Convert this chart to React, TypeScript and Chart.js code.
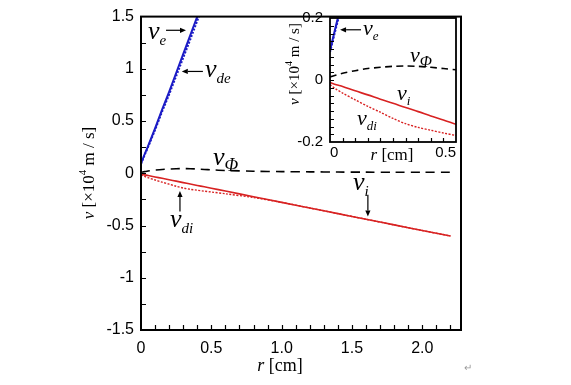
import React, { useEffect, useRef } from "react";
import { Chart, registerables } from "chart.js";
Chart.register(...registerables);

// ---------------- data ----------------
const rValues = [0, 0.025, 0.05, 0.1, 0.15, 0.2, 0.25, 0.3, 0.35, 0.4, 0.45, 0.5, 0.6, 0.8, 1.0, 1.2, 1.4, 1.6, 1.8, 2.0, 2.2];
const vE = [0.095, 0.18, 0.26, 0.43, 0.61, 0.78, 0.96, 1.14, 1.32, 1.5, 1.68, null, null, null, null, null, null, null, null, null, null];
const vDe = [0.09, 0.172, 0.25, 0.415, 0.59, 0.755, 0.93, 1.105, 1.28, 1.46, 1.635, null, null, null, null, null, null, null, null, null, null];
const vPhi = [0.01, 0.016, 0.022, 0.03, 0.037, 0.041, 0.044, 0.045, 0.044, 0.041, 0.037, 0.033, 0.027, 0.02, 0.016, 0.014, 0.012, 0.011, 0.01, 0.01, 0.01];
const vI = [-0.008, -0.015, -0.021, -0.035, -0.048, -0.062, -0.075, -0.089, -0.102, -0.116, -0.129, -0.143, -0.17, -0.224, -0.278, -0.332, -0.386, -0.44, -0.494, -0.548, -0.6];
const vDi = [-0.015, -0.03, -0.042, -0.064, -0.085, -0.104, -0.124, -0.141, -0.153, -0.162, -0.171, -0.179, -0.196, -0.232, -0.278, -0.332, -0.386, -0.44, -0.494, -0.548, -0.6];

// main axes
const mainXTicks = [0, 0.5, 1.0, 1.5, 2.0];
const mainXTickLabels = ["0", "0.5", "1.0", "1.5", "2.0"];
const mainXMinor = [0.1, 0.2, 0.3, 0.4, 0.5, 0.6, 0.7, 0.8, 0.9, 1.0, 1.1, 1.2, 1.3, 1.4, 1.5, 1.6, 1.7, 1.8, 1.9, 2.0, 2.1, 2.2];
const mainYTicks = [-1.5, -1, -0.5, 0, 0.5, 1, 1.5];
const mainYTickLabels = ["-1.5", "-1", "-0.5", "0", "0.5", "1", "1.5"];
const mainYMinor = [-1.25, -1, -0.75, -0.5, -0.25, 0, 0.25, 0.5, 0.75, 1, 1.25];

// inset axes
const insetXTicks = [0, 0.5];
const insetXTickLabels = ["0", "0.5"];
const insetXMinor = [0.05, 0.1, 0.15, 0.2, 0.25, 0.3, 0.35, 0.4, 0.45];
const insetYTicks = [-0.2, 0, 0.2];
const insetYTickLabels = ["-0.2", "0", "0.2"];
const insetYMinor = [-0.175, -0.15, -0.125, -0.1, -0.075, -0.05, -0.025, 0, 0.025, 0.05, 0.075, 0.1, 0.125, 0.15, 0.175];

// ---------------- styling ----------------
const SANS = "'Liberation Sans', Arial, sans-serif";
const SERIF = "'Liberation Serif', 'Times New Roman', serif";
const BLUE = "#1c1cc6";
const RED = "#d82222";

type Seg = { t: string; font: string; dy?: number };

function drawRich(ctx: CanvasRenderingContext2D, segs: Seg[], x: number, y: number) {
  let cx = x;
  for (const s of segs) {
    ctx.font = s.font;
    ctx.fillText(s.t, cx, y + (s.dy || 0));
    cx += ctx.measureText(s.t).width;
  }
}
function richWidth(ctx: CanvasRenderingContext2D, segs: Seg[]) {
  let w = 0;
  for (const s of segs) {
    ctx.font = s.font;
    w += ctx.measureText(s.t).width;
  }
  return w;
}
function arrow(ctx: CanvasRenderingContext2D, x1: number, y1: number, x2: number, y2: number) {
  const ang = Math.atan2(y2 - y1, x2 - x1);
  const hl = 6, hw = 2.6;
  ctx.beginPath();
  ctx.moveTo(x1, y1);
  ctx.lineTo(x2 - hl * Math.cos(ang), y2 - hl * Math.sin(ang));
  ctx.stroke();
  ctx.beginPath();
  ctx.moveTo(x2, y2);
  ctx.lineTo(x2 - hl * Math.cos(ang) + hw * Math.sin(ang), y2 - hl * Math.sin(ang) - hw * Math.cos(ang));
  ctx.lineTo(x2 - hl * Math.cos(ang) - hw * Math.sin(ang), y2 - hl * Math.sin(ang) + hw * Math.cos(ang));
  ctx.closePath();
  ctx.fill();
}

type Label = { sub: string; x: number; y: number; big?: boolean };
type Arrow = { x1: number; y1: number; x2: number; y2: number };

interface OverlayCfg {
  id: string;
  frameWidth: number;
  tickLen: number;
  xMinor: number[];
  yMinor: number[];
  labels: Label[];
  arrows: Arrow[];
  vSize: number;
  subSize: number;
  subDy: number;
  yTitle: { x: number; y: number; size: number; supSize: number };
  xTitle: { x: number; y: number; size: number };
  extra?: (ctx: CanvasRenderingContext2D) => void;
}

function makeOverlay(cfg: OverlayCfg) {
  return {
    id: cfg.id,
    afterDraw(chart: any) {
      const { ctx, chartArea: a, scales } = chart;
      const xs = scales.x, ys = scales.y;
      ctx.save();
      ctx.strokeStyle = "#000";
      ctx.fillStyle = "#000";
      ctx.lineWidth = cfg.frameWidth;
      ctx.strokeRect(a.left, a.top, a.right - a.left, a.bottom - a.top);
      ctx.lineWidth = 1.2;
      ctx.beginPath();
      for (const v of cfg.xMinor) {
        const px = Math.round(xs.getPixelForValue(v)) + 0.5;
        ctx.moveTo(px, a.bottom);
        ctx.lineTo(px, a.bottom - cfg.tickLen);
      }
      for (const v of cfg.yMinor) {
        const py = Math.round(ys.getPixelForValue(v)) + 0.5;
        ctx.moveTo(a.left, py);
        ctx.lineTo(a.left + cfg.tickLen, py);
      }
      ctx.stroke();

      // annotations
      ctx.textAlign = "left";
      ctx.textBaseline = "alphabetic";
      for (const l of cfg.labels) {
        const px = xs.getPixelForValue(l.x);
        const py = ys.getPixelForValue(l.y);
        const ss = l.big ? cfg.subSize + 3 : cfg.subSize;
        drawRich(ctx, [
          { t: "v", font: `italic ${cfg.vSize}px ${SERIF}` },
          { t: l.sub, font: `italic ${ss}px ${SERIF}`, dy: cfg.subDy },
        ], px, py);
      }
      ctx.lineWidth = 1.2;
      for (const ar of cfg.arrows) {
        arrow(ctx, xs.getPixelForValue(ar.x1), ys.getPixelForValue(ar.y1), xs.getPixelForValue(ar.x2), ys.getPixelForValue(ar.y2));
      }

      // y title
      const yt = cfg.yTitle;
      const ySegs: Seg[] = [
        { t: "v", font: `italic ${yt.size}px ${SERIF}` },
        { t: " [\u00d710", font: `${yt.size}px ${SERIF}` },
        { t: "4", font: `${yt.supSize}px ${SERIF}`, dy: -yt.size * 0.38 },
        { t: " m / s]", font: `${yt.size}px ${SERIF}` },
      ];
      ctx.save();
      ctx.translate(yt.x, yt.y);
      ctx.rotate(-Math.PI / 2);
      ctx.textBaseline = "middle";
      drawRich(ctx, ySegs, -richWidth(ctx, ySegs) / 2, 0);
      ctx.restore();

      // x title
      const xt = cfg.xTitle;
      const xSegs: Seg[] = [
        { t: "r", font: `italic ${xt.size}px ${SERIF}` },
        { t: " [cm]", font: `${xt.size}px ${SERIF}` },
      ];
      ctx.textBaseline = "alphabetic";
      drawRich(ctx, xSegs, xt.x - richWidth(ctx, xSegs) / 2, xt.y);
      if (cfg.extra) cfg.extra(ctx);
      ctx.restore();
    },
  };
}

function series(ys: (number | null)[]) {
  const out: { x: number; y: number }[] = [];
  rValues.forEach((r, i) => {
    const v = ys[i];
    if (v !== null && v !== undefined) out.push({ x: r, y: v });
  });
  return out;
}

function datasets(dashScale: number) {
  return [
    { data: series(vE), borderColor: BLUE, borderWidth: 2, pointRadius: 0, tension: 0, fill: false },
    { data: series(vDe), borderColor: BLUE, borderWidth: 2, borderDash: [2, 1.5], pointRadius: 0, tension: 0, fill: false },
    { data: series(vPhi), borderColor: "#000", borderWidth: 1.6, borderDash: [9 * dashScale, 6 * dashScale], pointRadius: 0, tension: 0.3, fill: false },
    { data: series(vI), borderColor: RED, borderWidth: 1.6, pointRadius: 0, tension: 0.3, fill: false },
    { data: series(vDi), borderColor: RED, borderWidth: 1.4, borderDash: [2, 1.5], pointRadius: 0, tension: 0.3, fill: false },
  ];
}

function axisCfg(opts: {
  min: number; max: number; ticks: number[]; labels: string[]; size: number; padding: number;
  fit: (s: any) => void; align?: string;
}) {
  return {
    type: "linear" as const,
    min: opts.min,
    max: opts.max,
    grid: { display: false, drawTicks: false },
    border: { display: false },
    afterBuildTicks: (s: any) => { s.ticks = opts.ticks.map((v) => ({ value: v })); },
    afterFit: opts.fit,
    ticks: {
      autoSkip: false,
      maxRotation: 0,
      padding: opts.padding,
      align: (opts.align || "center") as any,
      color: "#000",
      font: { family: SANS, size: opts.size },
      callback: (_v: any, i: number) => opts.labels[i],
    },
  };
}

export default function App() {
  const mainRef = useRef<HTMLCanvasElement>(null);
  const insetRef = useRef<HTMLCanvasElement>(null);

  useEffect(() => {
    const mainChart = new Chart(mainRef.current!, {
      type: "line",
      data: { datasets: datasets(1) as any },
      options: {
        responsive: false,
        animation: false,
        devicePixelRatio: 1,
        parsing: false as any,
        layout: { padding: { left: 0, right: 110, top: 10, bottom: 0 } },
        plugins: { legend: { display: false }, tooltip: { enabled: false } },
        scales: {
          x: axisCfg({ min: 0, max: 2.275, ticks: mainXTicks, labels: mainXTickLabels, size: 16, padding: 9, fit: (s) => { s.height = 55; } }) as any,
          y: axisCfg({ min: -1.5, max: 1.5, ticks: mainYTicks, labels: mainYTickLabels, size: 16, padding: 7, fit: (s) => { s.width = 141; } }) as any,
        },
      },
      plugins: [
        makeOverlay({
          id: "mainOverlay",
          frameWidth: 2,
          tickLen: 5,
          xMinor: mainXMinor,
          yMinor: mainYMinor,
          vSize: 26,
          subSize: 15,
          subDy: 6,
          labels: [
            { sub: "e", x: 0.05, y: 1.284 },
            { sub: "de", x: 0.455, y: 0.919 },
            { sub: "\u03a6", x: 0.512, y: 0.075, big: true },
            { sub: "i", x: 1.507, y: -0.159 },
            { sub: "di", x: 0.206, y: -0.516 },
          ],
          arrows: [
            { x1: 0.178, y1: 1.369, x2: 0.32, y2: 1.369 },
            { x1: 0.44, y1: 0.975, x2: 0.29, y2: 0.975 },
            { x1: 1.613, y1: -0.206, x2: 1.613, y2: -0.4125 },
            { x1: 0.277, y1: -0.366, x2: 0.277, y2: -0.169 },
          ],
          yTitle: { x: 90, y: 173, size: 17, supSize: 11 },
          xTitle: { x: 280, y: 371, size: 18 },
          extra: (ctx) => {
            ctx.fillStyle = "#9a9a9a";
            ctx.font = `10px ${SANS}`;
            ctx.fillText("\u21b5", 464, 371);
          },
        }) as any,
      ],
    });

    const insetChart = new Chart(insetRef.current!, {
      type: "line",
      data: { datasets: datasets(0.75) as any },
      options: {
        responsive: false,
        animation: false,
        devicePixelRatio: 1,
        parsing: false as any,
        layout: { padding: { left: 0, right: 115, top: 18, bottom: 0 } },
        plugins: { legend: { display: false }, tooltip: { enabled: false } },
        scales: {
          x: axisCfg({ min: 0, max: 0.5, ticks: insetXTicks, labels: insetXTickLabels, size: 15, padding: 2, align: "inner", fit: (s) => { s.height = 243; } }) as any,
          y: axisCfg({ min: -0.2, max: 0.2, ticks: insetYTicks, labels: insetYTickLabels, size: 15, padding: 7, fit: (s) => { s.width = 330; } }) as any,
        },
      },
      plugins: [
        makeOverlay({
          id: "insetOverlay",
          frameWidth: 1.8,
          tickLen: 4,
          xMinor: insetXMinor,
          yMinor: insetYMinor,
          vSize: 22,
          subSize: 13,
          subDy: 5,
          labels: [
            { sub: "e", x: 0.131, y: 0.146 },
            { sub: "\u03a6", x: 0.317, y: 0.059, big: true },
            { sub: "i", x: 0.266, y: -0.064 },
            { sub: "di", x: 0.107, y: -0.145 },
          ],
          arrows: [{ x1: 0.123, y1: 0.162, x2: 0.04, y2: 0.162 }],
          yTitle: { x: 295, y: 64, size: 15, supSize: 10 },
          xTitle: { x: 392, y: 160, size: 17 },
        }) as any,
      ],
    });

    return () => {
      mainChart.destroy();
      insetChart.destroy();
    };
  }, []);

  return (
    <div style={{ position: "absolute", left: 0, top: 0, width: 571, height: 385, background: "#fff" }}>
      <canvas ref={mainRef} width={571} height={385} style={{ position: "absolute", left: 0, top: 0 }} />
      <canvas ref={insetRef} width={571} height={385} style={{ position: "absolute", left: 0, top: 0, pointerEvents: "none" }} />
    </div>
  );
}
